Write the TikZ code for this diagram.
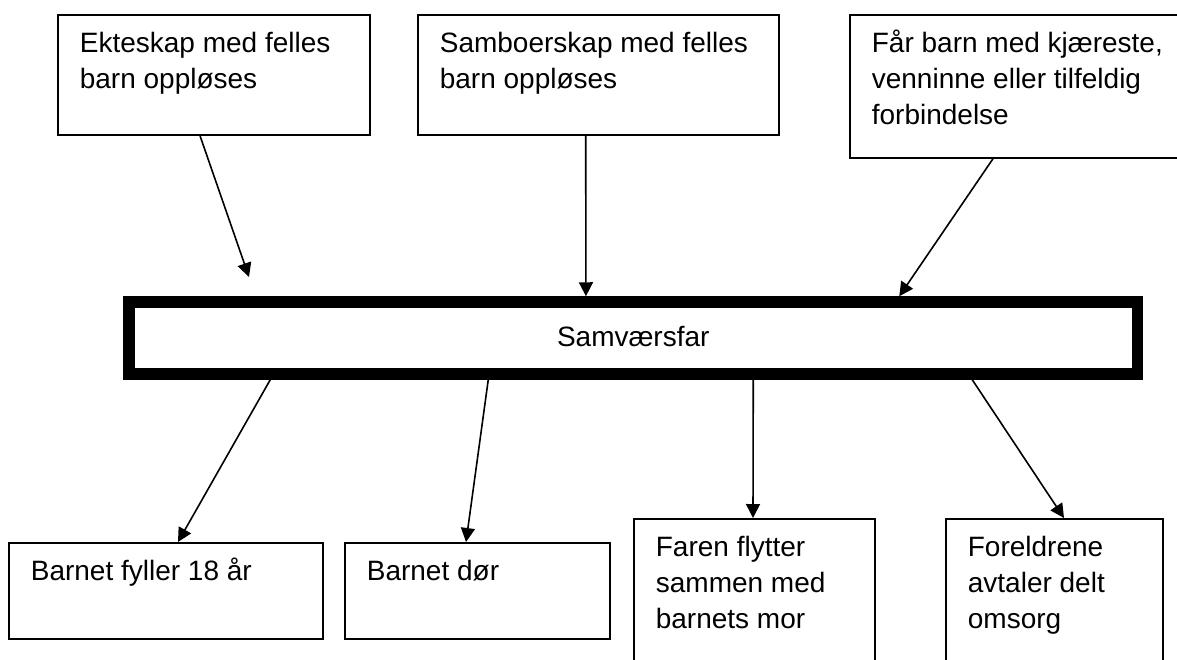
\documentclass[tikz,border=0pt]{standalone}
\usepackage{fontspec}
\setmainfont{Liberation Sans}
\usetikzlibrary{calc}
\usetikzlibrary{arrows.meta}

\newcommand{\evtxt}[3]{\parbox[t][#2][t]{#1}{\raggedright\rule{0pt}{19pt}#3}}

\begin{document}
\begin{tikzpicture}[x=.5pt, y=-.5pt,
  every node/.style={font=\fontsize{14}{18}\selectfont},
  evt/.style={draw, line width=.85pt, anchor=north west, inner xsep=11pt, inner ysep=0pt},
  mid/.style={draw, line width=5.75pt, minimum width=504.25pt, minimum height=36pt},
  arr/.style={line width=.8pt, -{Triangle[length=7pt,width=7pt]}}]
\clip (0,0) rectangle (1177,659);
% top boxes
\node[evt] (ekteskap) at (57,14) {\evtxt{134pt}{60pt}{Ekteskap med felles\\barn oppløses}};
\node[evt] (samboer) at (417,14) {\evtxt{158.5pt}{60pt}{Samboerskap med felles\\barn oppløses}};
\node[evt] (kjaereste) at (849,14) {\evtxt{153pt}{71.5pt}{Får barn med kjæreste,\\venninne eller tilfeldig\\forbindelse}};
% middle
\node[mid] (samv) at (633.25,338) {\raisebox{1.5pt}{Samværsfar}};
% bottom boxes
\node[evt] (atten) at (8,542) {\evtxt{135pt}{48pt}{Barnet fyller 18 år}};
\node[evt] (dor) at (344,542) {\evtxt{110.5pt}{48pt}{Barnet dør}};
\node[evt] (flytter) at (633,518) {\evtxt{98.5pt}{80pt}{Faren flytter\\sammen med\\barnets mor}};
\node[evt] (omsorg) at (945,518) {\evtxt{86.5pt}{80pt}{Foreldrene\\avtaler delt\\omsorg}};
% arrows in
\coordinate (e1) at (249,277);
\draw[arr] ($(ekteskap.south west)+(143,0)$) -- (e1);
\draw[arr] ($(samboer.south west)+(168.7,0)$) -- ($(samv.north west)+(462.7,0)$);
\draw[arr] ($(kjaereste.south west)+(144,0)$) -- ($(samv.north west)+(776,0)$);
% arrows out
\foreach \dx/\to/\tx in {147/atten/170, 365/dor/122, 630/flytter/120, 849/omsorg/119}
  \draw[arr] ($(samv.south west)+(\dx,0)$) -- ($(\to.north west)+(\tx,0)$);
\end{tikzpicture}
\end{document}
